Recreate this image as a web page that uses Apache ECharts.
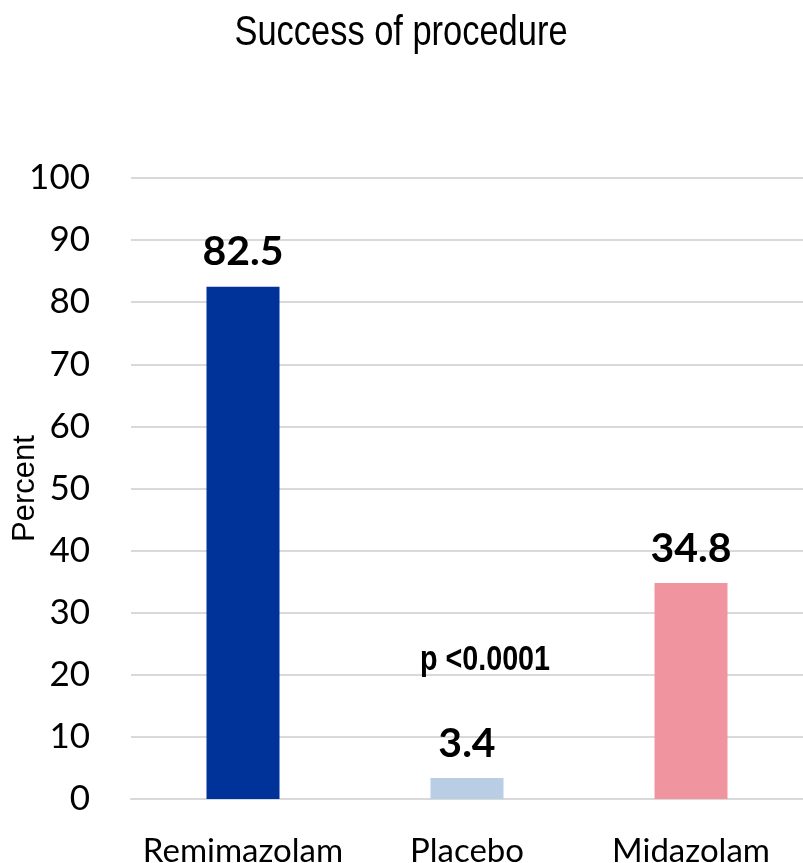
<!DOCTYPE html>
<html>
<head>
<meta charset="utf-8">
<script src="https://cdn.jsdelivr.net/npm/echarts@6/dist/echarts.min.js"></script>
<style>
  html, body { margin: 0; padding: 0; background: #fff; }
  #chart { width: 803px; height: 863px; }
</style>
</head>
<body>
<div id="chart"></div>
<script>
// Procedure success rate by treatment arm
const categories = ['Remimazolam', 'Placebo', 'Midazolam'];
const successPercent = [82.5, 3.4, 34.8];
const barColors = ['#003399', '#B9CDE5', '#F0959F'];
const yTicks = [0, 10, 20, 30, 40, 50, 60, 70, 80, 90, 100];
const chartTitle = 'Success of procedure';
const pValueText = 'p <0.0001';
const pValueAnchor = ['Placebo', 22.4];

const chart = echarts.init(document.getElementById('chart'), null, { renderer: 'canvas' });

chart.setOption({
  backgroundColor: '#ffffff',
  animation: false,
  grid: { left: 131, right: 0, top: 178, bottom: 64, containLabel: false, outerBoundsMode: 'none' },
  xAxis: {
    type: 'category',
    data: categories,
    axisLine: { show: true, lineStyle: { color: '#d9d9d9', width: 2 } },
    axisTick: { show: false },
    axisLabel: {
      interval: 0,
      hideOverlap: false,
      color: '#000',
      fontFamily: 'Lato, sans-serif',
      fontSize: 33,
      margin: 36
    }
  },
  yAxis: {
    type: 'value',
    min: yTicks[0],
    max: yTicks[yTicks.length - 1],
    interval: yTicks[1] - yTicks[0],
    name: 'Percent',
    nameLocation: 'middle',
    nameRotate: 90,
    nameGap: 90,
    nameMoveOverlap: false,
    nameTextStyle: {
      color: '#000',
      fontFamily: '"Liberation Sans", Arial, sans-serif',
      fontSize: 31
    },
    axisLine: { show: false },
    axisTick: { show: false },
    splitLine: { lineStyle: { color: '#d9d9d9', width: 2 } },
    axisLabel: {
      color: '#000',
      fontFamily: 'Lato, sans-serif',
      fontSize: 35,
      margin: 41
    }
  },
  series: [{
    type: 'bar',
    barWidth: 73,
    data: successPercent.map((v, i) => ({ value: v, itemStyle: { color: barColors[i] } })),
    label: {
      show: true,
      position: 'top',
      distance: 14,
      color: '#000',
      fontFamily: 'Lato, sans-serif',
      fontWeight: 'bold',
      fontSize: 41,
      formatter: p => String(p.value)
    }
  }]
});

// Condensed title and significance note (horizontal squeeze mimics a narrow face)
const pPos = chart.convertToPixel({ xAxisIndex: 0, yAxisIndex: 0 }, pValueAnchor);
chart.setOption({
  graphic: [{
    type: 'text',
    x: 401,
    y: 33,
    scaleX: 0.82,
    style: {
      text: chartTitle,
      fill: '#000',
      font: '42px "Liberation Sans", Arial, sans-serif',
      textAlign: 'center',
      textVerticalAlign: 'middle'
    }
  }, {
    type: 'text',
    x: pPos[0] + 18,
    y: pPos[1],
    scaleX: 0.82,
    style: {
      text: pValueText,
      fill: '#000',
      font: 'bold 35px "Liberation Sans", Arial, sans-serif',
      textAlign: 'center',
      textVerticalAlign: 'middle'
    }
  }]
});
</script>
</body>
</html>
